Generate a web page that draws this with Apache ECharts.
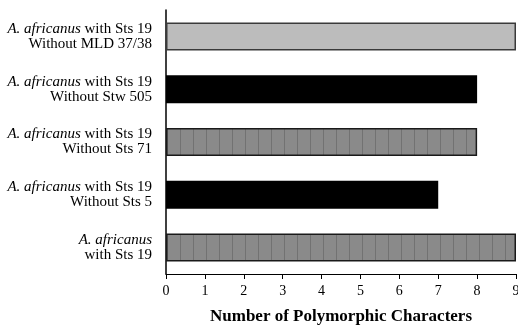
<!DOCTYPE html>
<html><head><meta charset="utf-8">
<script src="https://cdn.jsdelivr.net/npm/echarts@6/dist/echarts.min.js"></script>
<style>html,body{margin:0;padding:0;background:#fff}#c{width:518px;height:326px}</style>
</head><body><div id="c"></div>
<script>
const categories = [
  ['A. africanus', ' with Sts 19', 'Without MLD 37/38'],
  ['A. africanus', ' with Sts 19', 'Without Stw 505'],
  ['A. africanus', ' with Sts 19', 'Without Sts 71'],
  ['A. africanus', ' with Sts 19', 'Without Sts 5'],
  ['A. africanus', '', 'with Sts 19']
];
const values = [9, 8, 8, 7, 9];
const barStyles = ['light', 'black', 'striped', 'black', 'striped'];
const xTicks = [0,1,2,3,4,5,6,7,8,9];

function stripePattern() {
  const c = document.createElement('canvas');
  c.width = 13; c.height = 340;
  const g = c.getContext('2d');
  g.fillStyle = '#8a8a8a'; g.fillRect(0,0,13,340);
  g.fillStyle = '#727272'; g.fillRect(11,0,1,340);
  return c;
}
const pat = stripePattern();
function styleFor(k) {
  if (k === 'light') return {color:'#bcbcbc', borderColor:'#3a3a3a', borderWidth:1.5};
  if (k === 'black') return {color:'#000', borderColor:'#000', borderWidth:0};
  return {color:{image:pat, repeat:'repeat-x'}, borderColor:'#1a1a1a', borderWidth:1.5};
}
const catNames = categories.map((c,i)=>String(i));
const chart = echarts.init(document.getElementById('c'), null, {renderer:'canvas'});
chart.setOption({
  animation:false,
  grid:{left:166, right:2, top:10, bottom:52, containLabel:false, outerBoundsMode:'none'},
  xAxis:{type:'value', min:0, max:9, interval:1,
    axisLine:{show:true, lineStyle:{color:'#000', width:1}},
    axisTick:{show:true, length:5, lineStyle:{color:'#000'}},
    splitLine:{show:false},
    axisLabel:{color:'#000', fontFamily:'Liberation Serif', fontSize:14, margin:10,
      formatter:(v)=>String(xTicks[v])},
    name:'Number of Polymorphic Characters', nameLocation:'middle', nameGap:34,
    nameTextStyle:{color:'#000', fontFamily:'Liberation Serif', fontSize:17, fontWeight:'bold'}
  },
  yAxis:{type:'category', data:catNames, inverse:true,
    axisLine:{show:true, lineStyle:{color:'#000', width:1.5}},
    axisTick:{show:false},
    axisLabel:{margin:14, align:'right', lineHeight:15,
      formatter:(v)=>{const c=categories[+v]; return '{i|'+c[0]+'}{n|'+c[1]+'}\n{n|'+c[2]+'}';},
      rich:{
        i:{fontFamily:'Liberation Serif', fontStyle:'italic', fontSize:15, color:'#000', lineHeight:15},
        n:{fontFamily:'Liberation Serif', fontSize:15, color:'#000', lineHeight:15}
      }}
  },
  series:[{type:'bar', barWidth:28,
    data: values.map((v,i)=>({value:v, itemStyle:styleFor(barStyles[i])}))
  }]
});
</script></body></html>
